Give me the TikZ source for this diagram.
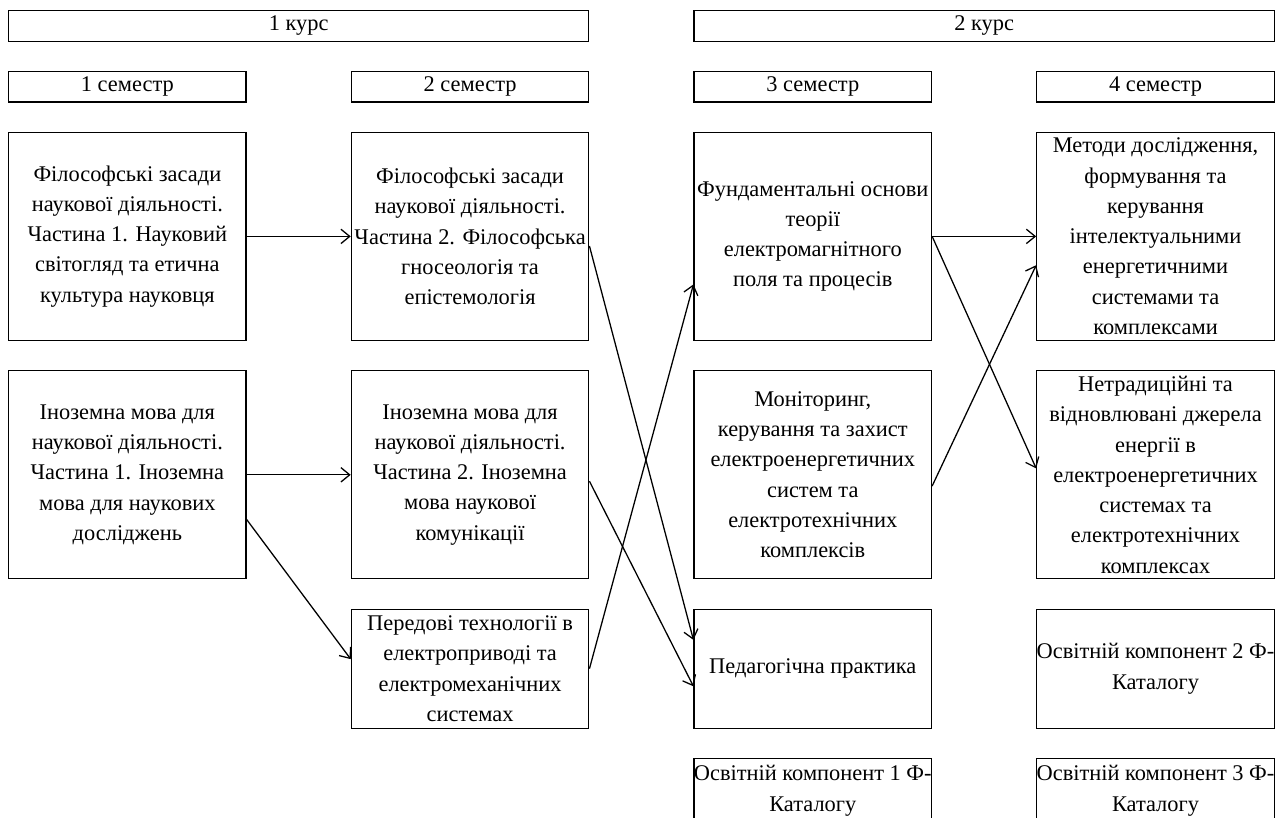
\documentclass[tikz,border=0pt]{standalone}
\usepackage{fontspec}
\setmainfont{Liberation Serif}
\usepackage{tikz}
\usetikzlibrary{positioning,arrows.meta}

\begin{document}
\begin{tikzpicture}[
  font=\fontsize{14pt}{18.9pt}\selectfont,
  node distance=18.2pt and 65pt,
  box/.style={draw, line width=0.8pt, align=center, minimum width=148.4pt, inner xsep=0pt, inner ysep=0pt},
  kurs/.style={box, minimum width=362.6pt, minimum height=19.2pt},
  sem/.style={box, minimum height=18.9pt},
  big/.style={box, minimum height=130pt},
  mid/.style={box, minimum height=74.4pt},
  low/.style={box, minimum height=40pt},
  arr/.style={-{Straight Barb[length=5.5pt, width=9pt]}, line width=0.8pt},
]
\useasboundingbox (0,0) rectangle (801.25pt,-511.25pt);
\node[kurs, anchor=north west] (k1) at (5pt,-6.25pt) {1 курс};
\node[kurs, right=of k1] (k2) {2 курс};
\node[sem, below=of k1.south west, anchor=north west] (s1) {1 семестр};
\node[sem, below=of k1.south east, anchor=north east] (s2) {2 семестр};
\node[sem, below=of k2.south west, anchor=north west] (s3) {3 семестр};
\node[sem, below=of k2.south east, anchor=north east] (s4) {4 семестр};
\node[big, below=of s1] (f1) {Філософські засади\\наукової діяльності.\\Частина 1. Науковий\\світогляд та етична\\культура науковця};
\node[big, below=of s2] (f2) {Філософські засади\\наукової діяльності.\\Частина 2. Філософська\\гносеологія та\\епістемологія};
\node[big, below=of s3] (fund) {Фундаментальні основи\\теорії\\електромагнітного\\поля та процесів};
\node[big, below=of s4] (met) {Методи дослідження,\\формування та\\керування\\інтелектуальними\\енергетичними\\системами та\\комплексами};
\node[big, below=of f1] (i1) {Іноземна мова для\\наукової діяльності.\\Частина 1. Іноземна\\мова для наукових\\досліджень};
\node[big, below=of f2] (i2) {Іноземна мова для\\наукової діяльності.\\Частина 2. Іноземна\\мова наукової\\комунікації};
\node[big, below=of fund] (mon) {Моніторинг,\\керування та захист\\електроенергетичних\\систем та\\електротехнічних\\комплексів};
\node[big, below=of met] (net) {Нетрадиційні та\\відновлювані джерела\\енергії в\\електроенергетичних\\системах та\\електротехнічних\\комплексах};
\node[mid, below=of i2] (per) {Передові технології в\\електроприводі та\\електромеханічних\\системах};
\node[mid, below=of mon] (ped) {Педагогічна практика};
\node[mid, below=of net] (osv2) {Освітній компонент 2 Ф-\\Каталогу};
\node[low, below=of ped] (osv1) {Освітній компонент 1 Ф-\\Каталогу};
\node[low, below=of osv2] (osv3) {Освітній компонент 3 Ф-\\Каталогу};
% links
\draw[arr] (f1.east) -- (f2.west);
\draw[arr] (i1.east) -- (i2.west);
\draw[arr] ([yshift=-28pt]i1.east) -- ([yshift=6pt]per.west);
\draw[arr] ([yshift=-6pt]f2.east) -- ([yshift=18pt]ped.west);
\draw[arr] ([yshift=-4pt]i2.east) -- ([yshift=-11pt]ped.west);
\draw[arr] (per.east) -- ([yshift=-30pt]fund.west);
\draw[arr] (fund.east) -- (met.west);
\draw[arr] (fund.east) -- ([yshift=4pt]net.west);
\draw[arr] ([yshift=-7pt]mon.east) -- ([yshift=-18pt]met.west);
\end{tikzpicture}
\end{document}
